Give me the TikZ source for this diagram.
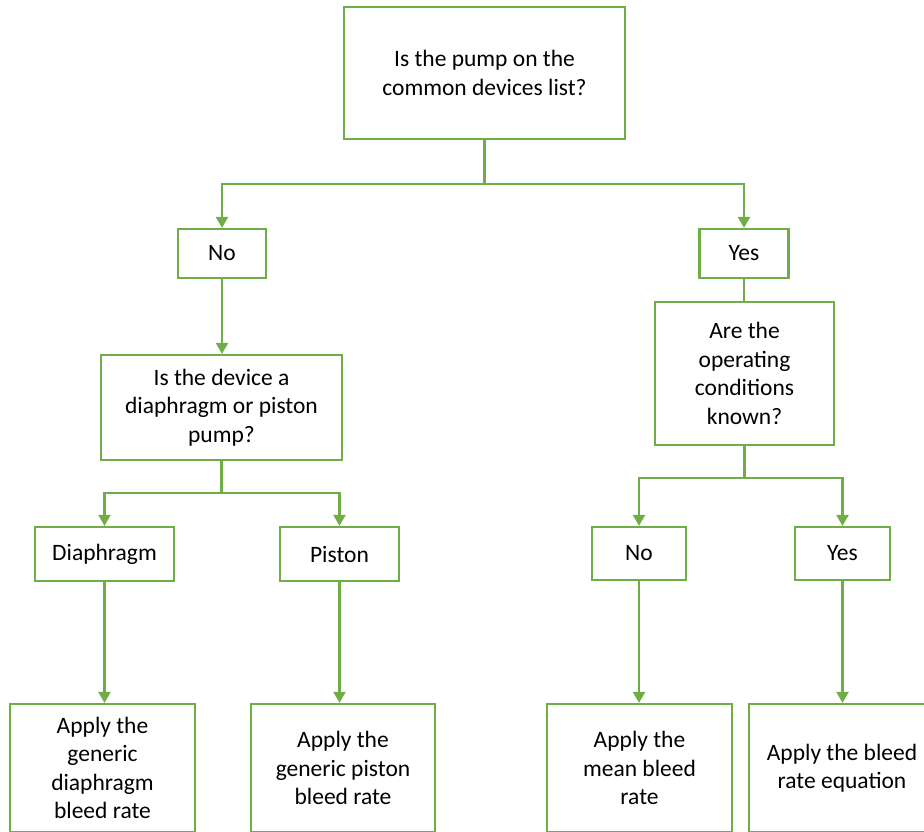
\documentclass[tikz,border=0pt]{standalone}
\usepackage{fontspec}
\setmainfont{Carlito}
\usetikzlibrary{arrows.meta}
\definecolor{fgreen}{HTML}{70AD47}
\tikzset{
  box/.style={draw=fgreen, line width=2.2pt, fill=white, align=center,
    inner sep=0pt, font=\fontsize{23.5}{28.5}\selectfont, text=black},
  link/.style={draw=fgreen, line width=2.2pt},
  arr/.style={link, -{Triangle[width=12pt,length=11pt]}}
}
\begin{document}
\begin{tikzpicture}[x=1pt,y=-1pt]
\useasboundingbox (0,0) rectangle (924,832);
\clip (0,0) rectangle (924,832);
\node[box, minimum width=281pt, minimum height=132pt] (top) at (484.5,73) {Is the pump on the\\common devices list?};
\node[box, minimum width=88pt, minimum height=49pt] (no1) at (222,253.5) {No};
\node[box, minimum width=89pt, minimum height=49pt] (yes1) at (744,253.5) {Yes};
\node[box, minimum width=241pt, minimum height=105pt] (q2) at (221.5,407.5) {Is the device a\\diaphragm or piston\\pump?};
\node[box, minimum width=179pt, minimum height=143pt] (q3) at (744.5,373.5) {Are the\\operating\\conditions\\known?};
\node[box, minimum width=139pt, minimum height=54pt] (dia) at (104.5,554) {Diaphragm};
\node[box, minimum width=119pt, minimum height=54pt] (pis) at (339.5,554) {Piston};
\node[box, minimum width=94pt, minimum height=53pt] (no2) at (639,553.5) {No};
\node[box, minimum width=95pt, minimum height=53pt] (yes2) at (842.5,553.5) {Yes};
\node[box, minimum width=185pt, minimum height=128pt] (b1) at (102.5,768) {Apply the\\generic\\diaphragm\\bleed rate};
\node[box, minimum width=184pt, minimum height=128pt] (b2) at (343,768) {Apply the\\generic piston\\bleed rate};
\node[box, minimum width=185pt, minimum height=128pt] (b3) at (639.5,768) {Apply the\\mean bleed\\rate};
\node[box, minimum width=186pt, minimum height=128pt] (b4) at (842,768) {Apply the bleed\\rate equation};
\coordinate (j1) at (484.5,184);
\coordinate (j2) at (221.5,493);
\coordinate (j3) at (744.5,478);
\draw[link] (top.south) -- (j1);
\draw[arr] (j1) -| (no1.north);
\draw[arr] (j1) -| (yes1.north);
\draw[arr] (no1.south) -- (no1.south |- q2.north);
\draw[link] (yes1.south) -- (yes1.south |- q3.north);
\draw[link] (q2.south) -- (j2);
\draw[arr] (j2) -| (dia.north);
\draw[arr] (j2) -| (pis.north);
\draw[link] (q3.south) -- (j3);
\draw[arr] (j3) -| (no2.north);
\draw[arr] (j3) -| (yes2.north);
\draw[arr] (dia.south) -- (dia.south |- b1.north);
\draw[arr] (pis.south) -- (pis.south |- b2.north);
\draw[arr] (no2.south) -- (no2.south |- b3.north);
\draw[arr] (yes2.south) -- (yes2.south |- b4.north);
\end{tikzpicture}
\end{document}
